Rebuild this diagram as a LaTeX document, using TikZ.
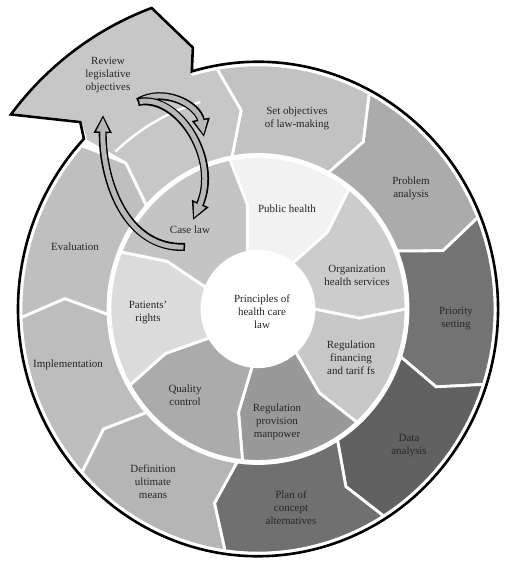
\documentclass[tikz,border=0pt]{standalone}
\usepackage{fontspec}
\setmainfont{Liberation Serif}
\usetikzlibrary{arrows.meta}

\definecolor{review}{gray}{0.78}
\definecolor{setobj}{gray}{0.76}
\definecolor{problem}{gray}{0.67}
\definecolor{priority}{gray}{0.45}
\definecolor{dataan}{gray}{0.38}
\definecolor{plan}{gray}{0.44}
\definecolor{definition}{gray}{0.71}
\definecolor{implement}{gray}{0.74}
\definecolor{evaluation}{gray}{0.75}
\definecolor{public}{gray}{0.95}
\definecolor{organiz}{gray}{0.80}
\definecolor{regfin}{gray}{0.78}
\definecolor{regprov}{gray}{0.60}
\definecolor{quality}{gray}{0.67}
\definecolor{patients}{gray}{0.86}
\definecolor{caselaw}{gray}{0.77}
\definecolor{arrfill}{gray}{0.72}

\tikzset{
  seg/.style={draw=white, line width=2.8pt, line join=round},
  rim/.style={draw=black, line width=2.6pt, line join=miter},
  lbl/.style={align=center, font=\fontsize{11}{13}\selectfont, text=black!85, inner sep=0pt},
  arrback/.style={draw=black, line width=8pt, -{Triangle[length=18pt,width=17pt]}},
  arrfront/.style={draw=arrfill, line width=5pt, shorten >=2.5pt, shorten <=1.5pt,
    -{Triangle[length=14pt,width=12pt]}},
}

% colour, cw angle, ccw angle, inner r, outer r
\newcommand\ringpart[5]{%
  \path[seg, fill=#1] (#2:#5) arc[start angle=#2, end angle=#3, radius=#5]
    -- ({#3-5}:{(#4+#5)/2}) -- (#3:#4) arc[start angle=#3, end angle=#2, radius=#4]
    -- ({#2-5}:{(#4+#5)/2}) -- cycle;}
\newcommand\bentarrow[1]{\draw[arrback] #1; \draw[arrfront] #1;}

\begin{document}
\begin{tikzpicture}[x=1pt, y=1pt]
\useasboundingbox (-258,-252) rectangle (246,309);

\begin{scope}[yscale=1.03]
  % outer ring
  \ringpart{setobj}{62}{100}{150}{237}
  \ringpart{problem}{22}{62}{150}{237}
  \ringpart{priority}{-18}{22}{150}{237}
  \ringpart{dataan}{-58}{-18}{150}{237}
  \ringpart{plan}{-98}{-58}{150}{237}
  \ringpart{definition}{-138}{-98}{150}{237}
  \ringpart{implement}{-178}{-138}{150}{237}
  \ringpart{evaluation}{138}{182}{150}{237}
  \path[seg, fill=review] (100:150) -- (95:193.5) -- (100:237)
    arc[start angle=100, end angle=106, radius=237] -- (104.4:262) -- (110:311)
    arc[start angle=110, end angle=142.6, radius=311] -- (134.4:254) -- (136.5:237)
    -- (133:193.5) -- (138:150) arc[start angle=138, end angle=100, radius=150] -- cycle;
  \draw[white, line width=2.4pt] (133:209) arc[start angle=133, end angle=106, radius=209];
  % inner ring
  \ringpart{public}{52}{101}{56}{148}
  \ringpart{organiz}{0}{52}{56}{148}
  \ringpart{regfin}{-48}{0}{56}{148}
  \ringpart{regprov}{-96}{-48}{56}{148}
  \ringpart{quality}{-150}{-96}{56}{148}
  \ringpart{patients}{158}{210}{56}{148}
  \ringpart{caselaw}{101}{158}{56}{148}
  \fill[white] (0,0) circle[radius=56];
  % border
  \draw[rim] (106:240) arc[start angle=106, end angle=-223.5, radius=240]
    -- (134.4:254) -- (142.6:311) arc[start angle=142.6, end angle=110, radius=311]
    -- (104.4:262) -- cycle;
\end{scope}

\node[lbl] (review) at (-150,234) {Review\\legislative\\objectives};
\node[lbl] (setobj) at (39,191) {Set objectives\\of law-making};
\node[lbl] (problem) at (153,121) {Problem\\analysis};
\node[lbl] (priority) at (198,-10) {Priority\\setting};
\node[lbl] (dataan) at (151,-137) {Data\\analysis};
\node[lbl] (plan) at (33,-199) {Plan of\\concept\\alternatives};
\node[lbl] (definition) at (-105,-173) {Definition\\ultimate\\means};
\node[lbl] (implement) at (-190,-56) {Implementation};
\node[lbl] (evaluation) at (-183,62) {Evaluation};
\node[lbl] (caselaw) at (-68,79) {Case law};
\node[lbl] (public) at (29,100) {Public health};
\node[lbl] (organiz) at (99,34) {Organization\\health services};
\node[lbl] (regfin) at (93,-49) {Regulation\\financing\\and tarif fs};
\node[lbl] (regprov) at (19,-113) {Regulation\\provision\\manpower};
\node[lbl] (quality) at (-73,-86) {Quality\\control};
\node[lbl] (patients) at (-110,-4) {Patients'\\rights};
\node[lbl] (principles) at (4,-3) {Principles of\\health care\\law};

\coordinate (tail) at (-120,207);
\coordinate (casetail) at (-73,62);
\coordinate (revtip) at (-155,194);
\coordinate (settip) at (-54,172);
\coordinate (casetip) at (-65,89);
\bentarrow{(casetail) .. controls (-132,60) and (-156,128) .. (revtip)}
\bentarrow{(tail) .. controls (-95,222) and (-60,205) .. (settip)}
\bentarrow{(tail) .. controls (-80,215) and (-38,150) .. (casetip)}
\end{tikzpicture}
\end{document}
